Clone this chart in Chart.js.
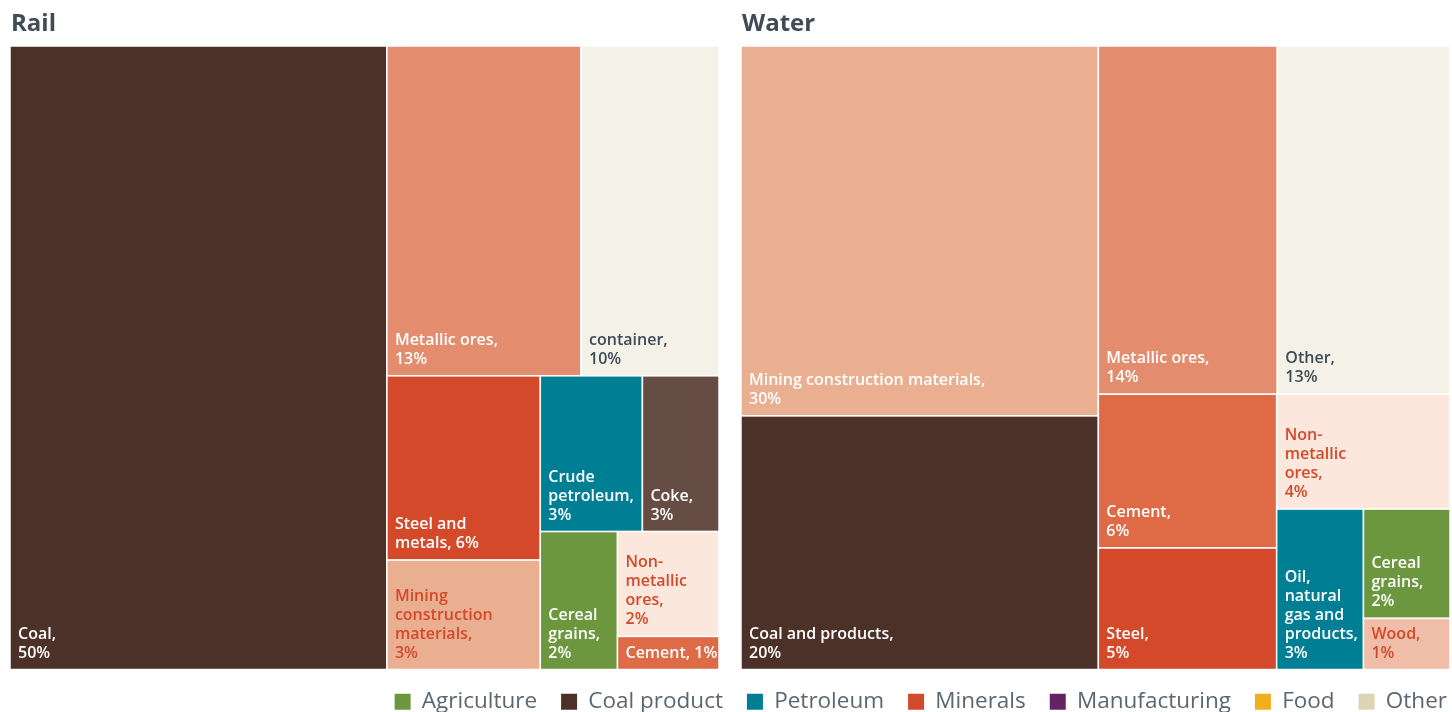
<!DOCTYPE html>
<html>
<head>
<meta charset="utf-8">
<script src="https://cdn.jsdelivr.net/npm/chart.js@4.4.1/dist/chart.umd.min.js"></script>
<style>
  html, body { margin: 0; padding: 0; background: #fff; overflow: hidden; }
  #wrap { width: 1452px; height: 726px; }
</style>
</head>
<body>
<div id="wrap"><canvas id="chart"></canvas></div>
<script>
// panel titles
const panelTitles = ['Rail', 'Water'];

// Rail: shares, labels as printed
const railLabels = [
  'Coal,\n50%', 'Metallic ores,\n13%', 'container,\n10%', 'Steel and\nmetals, 6%',
  'Mining\nconstruction\nmaterials,\n3%', 'Crude\npetroleum,\n3%', 'Coke,\n3%',
  'Cereal\ngrains,\n2%', 'Non-\nmetallic\nores,\n2%', 'Cement, 1%'
];
const railValues = [53.2, 14.5, 10.3, 6.4, 3.8, 3.6, 2.7, 2.41, 2.41, 0.76];

// Water
const waterLabels = [
  'Mining construction materials,\n30%', 'Coal and products,\n20%', 'Metallic ores,\n14%',
  'Other,\n13%', 'Cement,\n6%', 'Steel,\n5%', 'Non-\nmetallic\nores,\n4%',
  'Oil,\nnatural\ngas and\nproducts,\n3%', 'Cereal\ngrains,\n2%', 'Wood,\n1%'
];
const waterValues = [29.9, 20.5, 14.1, 13.6, 6.2, 4.9, 4.5, 3.15, 2.14, 1.0];

// legend categories
const legendNames = ['Agriculture', 'Coal product', 'Petroleum', 'Minerals', 'Manufacturing', 'Food', 'Other'];
const legendColors = ['#6c973f', '#4b3128', '#007f94', '#d4492a', '#642461', '#f1ae1d', '#ddd4b4'];

// cell styles
const railFill = ['#4b3128', '#e38d6e', '#f4f1e9', '#d4492a', '#eaae91', '#007f94', '#664d43', '#6c973f', '#fbe7dc', '#de6a46'];
const railText = ['#fff', '#fff', '#3f4b55', '#fff', '#d4492a', '#fff', '#fff', '#fff', '#d4492a', '#fff'];
const waterFill = ['#eaae91', '#4b3128', '#e38d6e', '#f4f1e9', '#de6a46', '#d4492a', '#fbe7dc', '#007f94', '#6c973f', '#f0bea8'];
const waterText = ['#fff', '#fff', '#fff', '#3f4b55', '#fff', '#fff', '#d4492a', '#fff', '#fff', '#d4492a'];

const panelGap = 0.031;
const FONT = '"Open Sans", "Noto Sans", sans-serif';

// binary treemap split (same idea as d3.treemapBinary), values sorted descending
function binaryLayout(values, x0, y0, x1, y1) {
  const order = values.map((v, i) => i).sort((a, b) => values[b] - values[a]);
  const sums = [0];
  order.forEach(i => sums.push(sums[sums.length - 1] + values[i]));
  const rects = [];
  function part(i, j, value, x0, y0, x1, y1) {
    if (i >= j - 1) { rects[order[i]] = {x0, y0, x1, y1}; return; }
    const off = sums[i], target = value / 2 + off;
    let k = i + 1, hi = j - 1;
    while (k < hi) {
      const mid = (k + hi) >>> 1;
      if (sums[mid] < target) k = mid + 1; else hi = mid;
    }
    if (target - sums[k - 1] < sums[k] - target && i + 1 < k) --k;
    const vl = sums[k] - off, vr = value - vl;
    if (x1 - x0 > y1 - y0) {
      const xk = (x0 * vr + x1 * vl) / value;
      part(i, k, vl, x0, y0, xk, y1);
      part(k, j, vr, xk, y0, x1, y1);
    } else {
      const yk = (y0 * vr + y1 * vl) / value;
      part(i, k, vl, x0, y0, x1, yk);
      part(k, j, vr, x0, yk, x1, y1);
    }
  }
  part(0, order.length, sums[order.length], x0, y0, x1, y1);
  return rects;
}

const panels = [
  {values: railValues, labels: railLabels, fill: railFill, text: railText},
  {values: waterValues, labels: waterLabels, fill: waterFill, text: waterText}
];

const treemapPlugin = {
  id: 'treemap',
  afterDatasetsDraw(chart) {
    const ctx = chart.ctx;
    const xs = chart.scales.x, ys = chart.scales.y;
    panels.forEach((p, pi) => {
      const left = xs.getPixelForValue(pi * (1 + panelGap));
      const right = xs.getPixelForValue(pi * (1 + panelGap) + 1);
      const top = ys.getPixelForValue(0);
      const bottom = ys.getPixelForValue(1);
      const rects = binaryLayout(p.values, left, top, right, bottom);
      ctx.save();
      rects.forEach((r, i) => {
        ctx.fillStyle = p.fill[i];
        ctx.fillRect(r.x0, r.y0, r.x1 - r.x0, r.y1 - r.y0);
        ctx.strokeStyle = '#fff';
        ctx.lineWidth = 1.5;
        ctx.strokeRect(r.x0, r.y0, r.x1 - r.x0, r.y1 - r.y0);
      });
      ctx.font = '600 16px ' + FONT;
      ctx.textAlign = 'left';
      ctx.textBaseline = 'alphabetic';
      rects.forEach((r, i) => {
        const lines = p.labels[i].split('\n');
        ctx.fillStyle = p.text[i];
        lines.forEach((ln, li) => {
          ctx.fillText(ln, r.x0 + 8, r.y1 - 12 - (lines.length - 1 - li) * 19);
        });
      });
      // panel title
      ctx.fillStyle = '#3f4b55';
      ctx.font = 'bold 24px ' + FONT;
      ctx.fillText(panelTitles[pi], left + 1, top - 15);
      ctx.restore();
    });
  }
};

// nudge the legend so its last entry lines up with the right edge
const legendShift = {
  id: 'legendShift',
  afterLayout(chart) {
    const lg = chart.legend;
    if (lg) { lg.left += 21; lg.right += 21; lg.top -= 3; lg.bottom -= 3; }
  }
};

new Chart(document.getElementById('chart'), {
  type: 'scatter',
  data: {
    datasets: legendNames.map((n, i) => ({
      label: n, data: [], backgroundColor: legendColors[i], borderColor: legendColors[i], borderWidth: 0
    }))
  },
  options: {
    responsive: true,
    maintainAspectRatio: false,
    animation: false,
    layout: { padding: { top: 46, left: 10, right: 2, bottom: 0 } },
    scales: {
      x: { type: 'linear', min: 0, max: 2 + panelGap, display: false },
      y: { type: 'linear', min: 0, max: 1, reverse: true, display: false }
    },
    plugins: {
      tooltip: { enabled: false },
      legend: {
        position: 'bottom',
        align: 'end',
        labels: {
          boxWidth: 16, boxHeight: 16, padding: 24, color: '#5b6770',
          font: { size: 22.5, family: FONT }
        }
      }
    }
  },
  plugins: [treemapPlugin, legendShift]
});
</script>
</body>
</html>
